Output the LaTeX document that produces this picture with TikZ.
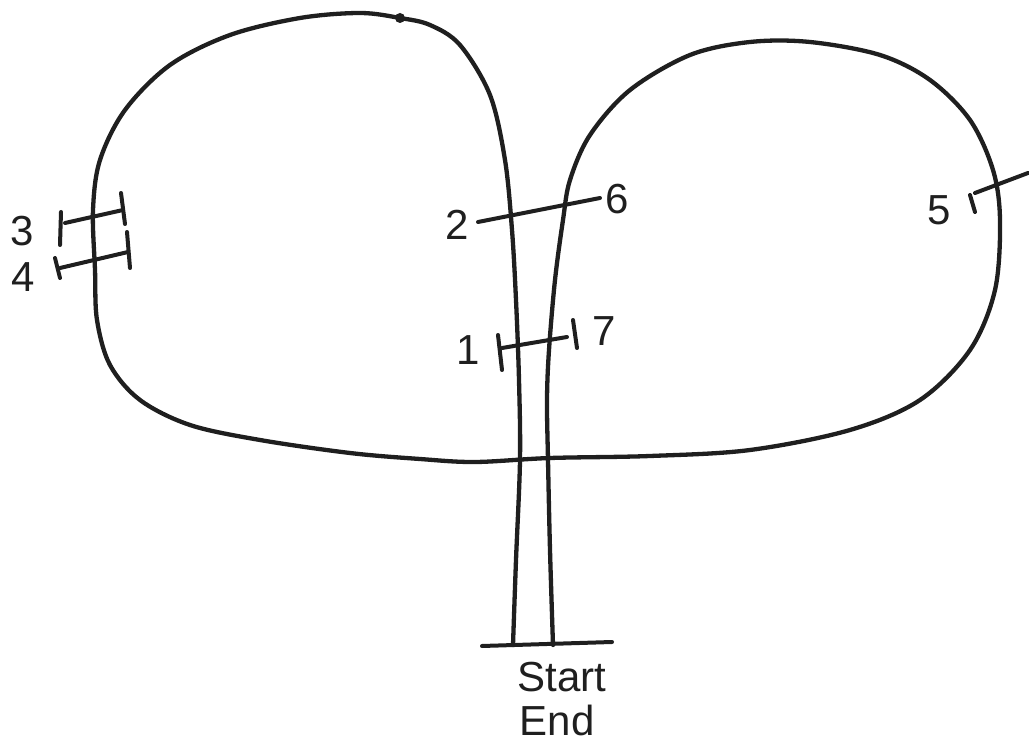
\documentclass[tikz,border=0pt]{standalone}
\usepackage{fontspec}
\setmainfont{Liberation Sans}
\tikzset{
  track/.style={line width=4.3pt, line cap=round, line join=round, black!88},
  tick/.style={line width=4pt, line cap=round, black!88},
  lbl/.style={font=\fontsize{42}{48}\selectfont, text=black!88, inner sep=0pt},
}
\begin{document}
\begin{tikzpicture}[x=1pt,y=-1pt]
\useasboundingbox (0,0) rectangle (1029,746);
% main track
\draw[track] plot[smooth, tension=0.55] coordinates {
 (513,645) (516,560) (520,460) (519,380) (516,300) (512,230) (505,160)
 (490,95) (460,45) (430,25) (400,18) (360,13) (300,18) (230,35) (170,65)
 (125,110) (100,160) (93,210) (95,270) (97,320) (110,365) (140,400)
 (190,425) (260,440) (350,453) (420,459) (475,462) (550,458)
 (650,456) (750,450) (850,430) (920,400) (970,350) (995,290) (1000,220)
 (993,170) (970,120) (930,80) (880,55) (810,42) (750,42) (690,55)
 (630,90) (590,135) (570,180) (563,220) (555,280) (549,350) (547,400)
 (548,460) (550,550) (553,645)};
\fill[black!88] (400,18) circle (5);
% bottom line
\coordinate (bL) at (482,646); \coordinate (bR) at (612,642);
\draw[tick] (bL) -- (bR);
% mark 3
\draw[tick] (65,223) -- (123,210);
\draw[tick] (61,212) -- (60,245);
\draw[tick] (121,193) -- (125,224);
% mark 4
\draw[tick] (60,268) -- (128,252);
\draw[tick] (55,258) -- (60,278);
\draw[tick] (127,232) -- (130,268);
% mark 2-6
\draw[tick] (478,222) -- (600,198);
% mark 1-7
\draw[tick] (502,348) -- (567,337);
\draw[tick] (498,335) -- (502,370);
\draw[tick] (573,320) -- (577,348);
% mark 5
\draw[tick] (975,193) -- (1028,173);
\draw[tick] (970,195) -- (975,212);
% labels
\node[lbl] (l3) at (22,231) {3};
\node[lbl] (l4) at (23,277) {4};
\node[lbl] (l2) at (457,225) {2};
\node[lbl] (l6) at (617,199) {6};
\node[lbl] (l1) at (468,350) {1};
\node[lbl] (l7) at (604,331) {7};
\node[lbl] (l5) at (939,210) {5};
\node[lbl] (start) at (562,677) {Start};
\node[lbl] (end) at (557,720) {End};
\end{tikzpicture}
\end{document}
